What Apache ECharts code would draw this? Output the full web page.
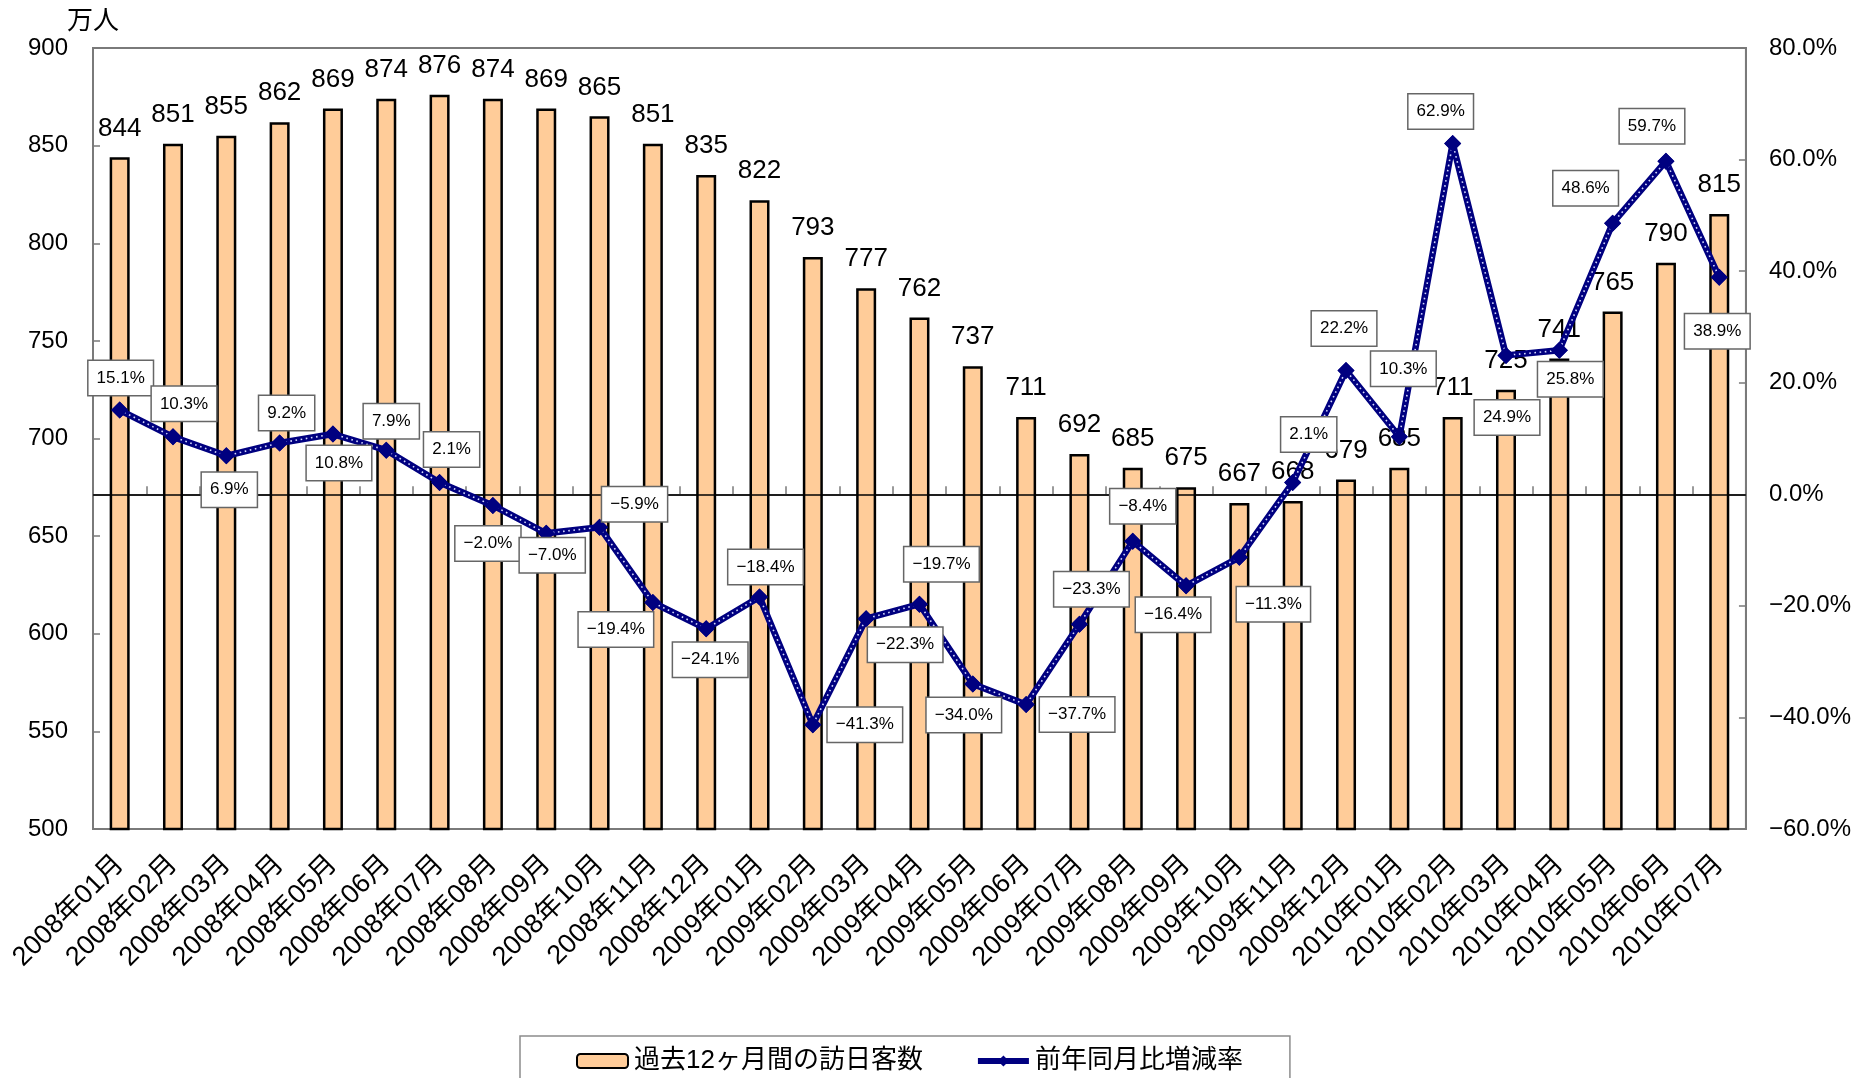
<!DOCTYPE html>
<html>
<head>
<meta charset="utf-8">
<script src="https://cdn.jsdelivr.net/npm/echarts@6/dist/echarts.min.js"></script>
<style>
  html, body { margin: 0; padding: 0; background: #fff; }
  #chart { width: 1854px; height: 1078px; }
</style>
</head>
<body>
<div id="chart"></div>
<script>
// Monthly categories
const categories = [
  '2008年01月', '2008年02月', '2008年03月', '2008年04月', '2008年05月', '2008年06月',
  '2008年07月', '2008年08月', '2008年09月', '2008年10月', '2008年11月', '2008年12月',
  '2009年01月', '2009年02月', '2009年03月', '2009年04月', '2009年05月', '2009年06月',
  '2009年07月', '2009年08月', '2009年09月', '2009年10月', '2009年11月', '2009年12月',
  '2010年01月', '2010年02月', '2010年03月', '2010年04月', '2010年05月', '2010年06月',
  '2010年07月'
];

// Visitors over the trailing 12 months (万人)
const visitors = [
  844, 851, 855, 862, 869, 874, 876, 874, 869, 865, 851, 835,
  822, 793, 777, 762, 737, 711, 692, 685, 675, 667, 668, 679,
  685, 711, 725, 741, 765, 790, 815
];

// Year-on-year change for the same month (%)
const yoyRate = [
  15.1, 10.3, 6.9, 9.2, 10.8, 7.9, 2.1, -2.0, -7.0, -5.9, -19.4, -24.1,
  -18.4, -41.3, -22.3, -19.7, -34.0, -37.7, -23.3, -8.4, -16.4, -11.3, 2.1, 22.2,
  10.3, 62.9, 24.9, 25.8, 48.6, 59.7, 38.9
];

// Placement of each percentage callout relative to its point (px)
const rateLabelOffsets = [
  [1, -32], [11, -33], [3, 34], [7, -30], [6, 29], [5, -29], [12, -33], [-5, 38],
  [6, 22], [35, -23], [-37, 27], [4, 31], [6, -30], [52, 0], [39, 26], [22, -40],
  [-9, 31], [51, 10], [12, -35], [10, -35], [-13, 29], [34, 47], [16, -48], [-2, -42],
  [4, -68], [-12, -32], [1, 62], [11, 29], [-27, -35], [-14, -35], [-2, 54]
];

const FONT = "'Liberation Sans', 'Noto Sans CJK JP', sans-serif";
const AXIS_GREY = '#7a7a7a';
const NAVY = '#000080';

const pct = v => (v < 0 ? '\u2212' : '') + Math.abs(v).toFixed(1) + '%';

const rateData = yoyRate.map((v, i) => ({
  value: v,
  label: { offset: rateLabelOffsets[i] }
}));

const chart = echarts.init(document.getElementById('chart'), null, { renderer: 'canvas' });

chart.setOption({
  animation: false,
  backgroundColor: '#ffffff',
  textStyle: { fontFamily: FONT, color: '#000' },
  grid: {
    left: 93, right: 105, top: 48, bottom: 249,
    show: true, borderColor: AXIS_GREY, borderWidth: 2, backgroundColor: 'transparent'
  },
  legend: {
    data: ['過去12ヶ月間の訪日客数', '前年同月比増減率'],
    left: 520, top: 1036,
    padding: [12, 47, 40, 56],
    itemGap: 52, itemWidth: 51, itemHeight: 14,
    borderColor: '#8c8c8c', borderWidth: 1.5,
    lineStyle: { width: 6 },
    textStyle: { fontSize: 26, fontFamily: FONT, color: '#000', padding: [0, 0, 0, 1] }
  },
  xAxis: {
    type: 'category',
    data: categories,
    boundaryGap: true,
    axisLine: { show: true, lineStyle: { color: AXIS_GREY, width: 2 } },
    axisTick: { show: true, inside: true, length: 8, lineStyle: { color: AXIS_GREY, width: 1.5 } },
    axisLabel: {
      rotate: 45, margin: 31, fontSize: 27, fontFamily: FONT, color: '#000', interval: 0
    },
    splitLine: { show: false }
  },
  yAxis: [
    {
      type: 'value', min: 500, max: 900, interval: 50,
      name: '万人', nameLocation: 'end', nameGap: 13,
      nameTextStyle: { fontSize: 26, fontFamily: FONT, color: '#000', align: 'center' },
      axisLine: { show: true, lineStyle: { color: AXIS_GREY, width: 2 } },
      axisTick: { show: true, inside: true, length: 7, lineStyle: { color: AXIS_GREY, width: 1.5 } },
      axisLabel: { margin: 25, fontSize: 24, fontFamily: FONT, color: '#000' },
      splitLine: { show: false }
    },
    {
      type: 'value', min: -60, max: 80, interval: 20,
      position: 'right',
      axisLine: { show: true, lineStyle: { color: AXIS_GREY, width: 2 } },
      axisTick: { show: true, inside: true, length: 7, lineStyle: { color: AXIS_GREY, width: 1.5 } },
      axisLabel: { margin: 23, fontSize: 24, fontFamily: FONT, color: '#000', formatter: v => pct(v) },
      splitLine: { show: false }
    }
  ],
  series: [
    {
      name: '過去12ヶ月間の訪日客数',
      type: 'bar',
      data: visitors,
      barWidth: 20,
      z: 2,
      itemStyle: { color: '#FFCC99', borderColor: '#000', borderWidth: 2.5 },
      label: {
        show: true, position: 'top', distance: 16,
        fontSize: 26, fontFamily: FONT, color: '#000'
      }
    },
    {
      name: '前年同月比増減率',
      type: 'line',
      yAxisIndex: 1,
      data: yoyRate,
      z: 10,
      symbol: 'diamond', symbolSize: 17,
      itemStyle: { color: NAVY },
      lineStyle: { color: NAVY, width: 6.5 },
      markLine: {
        silent: true, symbol: 'none',
        label: { show: false },
        lineStyle: { color: '#000', width: 1.5, type: 'solid' },
        data: [{ yAxis: 0 }]
      }
    },
    {
      name: 'rate-dots',
      type: 'line',
      yAxisIndex: 1,
      data: yoyRate,
      z: 11,
      silent: true,
      symbol: 'none',
      lineStyle: { color: '#d4d9ff', width: 1.6, type: [1.6, 3.6] }
    },
    {
      name: 'rate-points',
      type: 'line',
      yAxisIndex: 1,
      data: rateData,
      z: 12,
      silent: true,
      symbol: 'diamond', symbolSize: 17,
      itemStyle: { color: NAVY },
      lineStyle: { opacity: 0 },
      label: {
        show: true, position: 'inside',
        formatter: p => pct(p.value),
        fontSize: 17, fontFamily: FONT, color: '#000',
        backgroundColor: '#fff', borderColor: '#666', borderWidth: 1.5,
        padding: [9, 8, 8, 8]
      }
    }
  ]
});
</script>
</body>
</html>
